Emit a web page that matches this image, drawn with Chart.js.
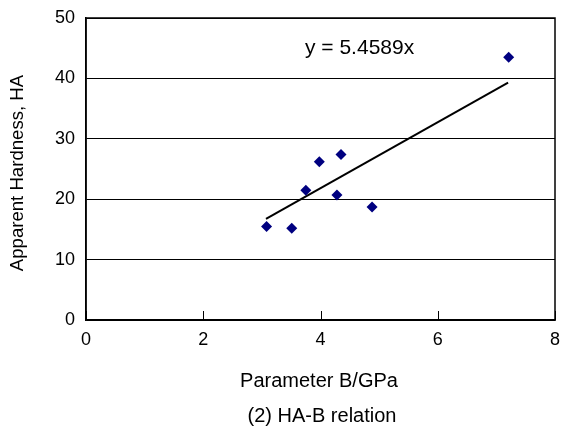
<!DOCTYPE html>
<html>
<head>
<meta charset="utf-8">
<script src="https://cdn.jsdelivr.net/npm/chart.js@4.4.0/dist/chart.umd.min.js"></script>
<style>
  html, body { margin: 0; padding: 0; background: #fff; }
  #wrap { width: 564px; height: 431px; }
</style>
</head>
<body>
<div id="wrap"><canvas id="chart" width="564" height="431"></canvas></div>
<script>
// measured points: parameter B (GPa) vs apparent hardness HA
const paramB = [3.08, 3.51, 3.75, 3.98, 4.35, 4.28, 4.88, 7.21];
const hardness = [15.5, 15.2, 21.5, 26.2, 27.4, 20.7, 18.7, 43.5];

// linear fit through origin
const slope = 5.4589;
const fitRange = [3.07, 7.2];

const xTicks = [0, 2, 4, 6, 8];
const yTicks = [0, 10, 20, 30, 40, 50];

const FONT = '"Liberation Sans", Arial, sans-serif';

// small tick marks on the x axis, pointing up into the plot
const innerTicks = {
  id: 'innerTicks',
  afterDraw(chart) {
    const ctx = chart.ctx;
    const xs = chart.scales.x;
    const bottom = chart.chartArea.bottom;
    ctx.save();
    ctx.strokeStyle = '#000';
    ctx.lineWidth = 1;
    xTicks.forEach(v => {
      const px = Math.round(xs.getPixelForValue(v)) + 0.5;
      ctx.beginPath();
      ctx.moveTo(px, bottom);
      ctx.lineTo(px, bottom - 9);
      ctx.stroke();
    });
    ctx.restore();
  }
};

// equation label, axis titles and figure caption
const labels = {
  id: 'labels',
  afterDraw(chart) {
    const ctx = chart.ctx;
    ctx.save();
    ctx.fillStyle = '#000';
    ctx.textBaseline = 'alphabetic';
    ctx.textAlign = 'left';
    ctx.font = '21px ' + FONT;
    ctx.fillText('y = ' + slope + 'x', 305, 54);
    ctx.textAlign = 'center';
    ctx.font = '20px ' + FONT;
    ctx.fillText('Parameter B/GPa', 319, 387);
    ctx.fillText('(2) HA-B relation', 322, 422);
    ctx.font = '18.6px ' + FONT;
    ctx.translate(23, 173);
    ctx.rotate(-Math.PI / 2);
    ctx.fillText('Apparent Hardness, HA', 0, 0);
    ctx.restore();
  }
};

// frame round the plot area
const frame = {
  id: 'frame',
  afterDraw(chart) {
    const a = chart.chartArea, ctx = chart.ctx;
    ctx.save();
    ctx.strokeStyle = '#000';
    ctx.lineWidth = 1.5;
    ctx.strokeRect(a.left, a.top, a.right - a.left, a.bottom - a.top);
    ctx.restore();
  }
};

new Chart(document.getElementById('chart'), {
  type: 'scatter',
  data: {
    datasets: [
      {
        label: 'HA',
        data: paramB.map((b, i) => ({ x: b, y: hardness[i] })),
        pointStyle: 'rectRot',
        pointRadius: 5.5,
        backgroundColor: '#000080',
        borderColor: '#000080',
        borderWidth: 0
      },
      {
        label: 'fit',
        type: 'line',
        data: fitRange.map(b => ({ x: b, y: slope * b })),
        borderColor: '#000',
        borderWidth: 2,
        pointRadius: 0,
        fill: false
      }
    ]
  },
  options: {
    responsive: false,
    animation: false,
    layout: { padding: { left: 0, right: 9, top: 18, bottom: 0 } },
    plugins: { legend: { display: false }, tooltip: { enabled: false } },
    scales: {
      x: {
        type: 'linear',
        min: 0, max: 8,
        afterBuildTicks: s => { s.ticks = xTicks.map(v => ({ value: v })); },
        afterFit: s => { s.height = 111; s.paddingLeft = 0; s.paddingRight = 0; },
        grid: { display: false, drawTicks: false },
        border: { color: '#000', width: 1.5 },
        ticks: { color: '#000', font: { family: FONT, size: 18 }, padding: 9, maxRotation: 0 }
      },
      y: {
        min: 0, max: 50,
        afterBuildTicks: s => { s.ticks = yTicks.map(v => ({ value: v })); },
        afterFit: s => { s.width = 86; s.paddingTop = 0; s.paddingBottom = 0; },
        grid: { color: '#000', lineWidth: 1, drawTicks: false },
        border: { color: '#000', width: 1.5 },
        ticks: { color: '#000', font: { family: FONT, size: 18 }, padding: 11 }
      }
    }
  },
  plugins: [innerTicks, labels, frame]
});
</script>
</body>
</html>
